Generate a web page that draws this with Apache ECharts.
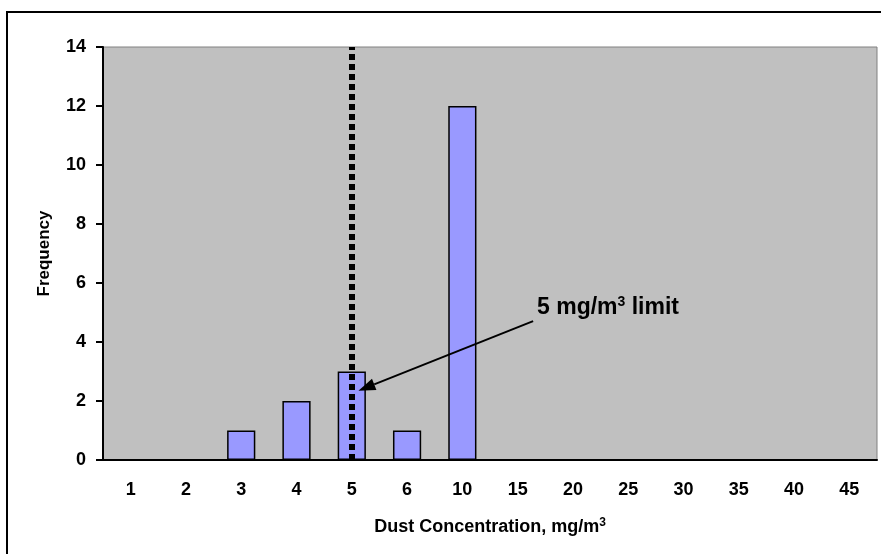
<!DOCTYPE html>
<html>
<head>
<meta charset="utf-8">
<script src="https://cdn.jsdelivr.net/npm/echarts@6/dist/echarts.min.js"></script>
<style>
  html, body { margin: 0; padding: 0; background: #fff; }
  #chart { width: 881px; height: 554px; }
</style>
</head>
<body>
<div id="chart"></div>
<script>
const categories = ['1', '2', '3', '4', '5', '6', '10', '15', '20', '25', '30', '35', '40', '45'];
const frequency = [0, 0, 1, 2, 3, 1, 12, 0, 0, 0, 0, 0, 0, 0];
const yTicks = [0, 2, 4, 6, 8, 10, 12, 14];
const LIMIT = '5';
const FONT = 'Liberation Sans, Arial, sans-serif';

const limitIndex = categories.indexOf(LIMIT);
const chart = echarts.init(document.getElementById('chart'));

chart.setOption({
  animation: false,
  grid: {
    left: 103, right: 4, top: 47, bottom: 94,
    show: true,
    backgroundColor: '#c0c0c0',
    borderColor: '#808080',
    borderWidth: 1
  },
  xAxis: {
    type: 'category',
    data: categories,
    name: '{a|Dust Concentration, mg/m}{s|3}',
    nameLocation: 'middle',
    nameGap: 57,
    nameTextStyle: {
      rich: {
        a: { fontFamily: FONT, fontWeight: 'bold', fontSize: 18, color: '#000' },
        s: { fontFamily: FONT, fontWeight: 'bold', fontSize: 12, color: '#000', verticalAlign: 'top', padding: [0, 0, 8, 0] }
      }
    },
    axisLine: { lineStyle: { color: '#000', width: 2 } },
    axisTick: { length: 6, lineStyle: { color: '#000', width: 2 } },
    axisLabel: { color: '#000', fontFamily: FONT, fontWeight: 'bold', fontSize: 18, margin: 21 },
    splitLine: { show: false }
  },
  yAxis: {
    type: 'value',
    min: yTicks[0],
    max: yTicks[yTicks.length - 1],
    interval: yTicks[1] - yTicks[0],
    name: 'Frequency',
    nameLocation: 'middle',
    nameRotate: 90,
    nameGap: 50,
    nameTextStyle: { color: '#000', fontFamily: FONT, fontWeight: 'bold', fontSize: 17 },
    axisLine: { show: true, lineStyle: { color: '#000', width: 2 } },
    axisTick: { show: true, length: 7, lineStyle: { color: '#000', width: 2 } },
    axisLabel: { color: '#000', fontFamily: FONT, fontWeight: 'bold', fontSize: 18, margin: 17 },
    splitLine: { show: false }
  },
  series: [{
    type: 'bar',
    data: frequency,
    barWidth: '51%',
    itemStyle: { color: '#9999ff', borderColor: '#000', borderWidth: 1.5 },
    markLine: {
      silent: true,
      symbol: ['none', 'none'],
      label: { show: false },
      lineStyle: { color: '#000', width: 6, type: [6, 4] },
      data: [{ xAxis: limitIndex }]
    }
  }]
});

// annotation: arrow from label to the limit line
const p0 = chart.convertToPixel({ seriesIndex: 0 }, [limitIndex, 0]);
const p1 = chart.convertToPixel({ seriesIndex: 0 }, [limitIndex + 1, 1]);
const band = p1[0] - p0[0];
const unit = p0[1] - p1[1];
const tip = [p0[0] + 0.12 * band, p0[1] - 2.35 * unit];
const tail = [p0[0] + 3.28 * band, p0[1] - 4.71 * unit];
const dx = tip[0] - tail[0], dy = tip[1] - tail[1];
const len = Math.sqrt(dx * dx + dy * dy);
const ux = dx / len, uy = dy / len;
const headLen = 17, headHalf = 6;
const base = [tip[0] - ux * headLen, tip[1] - uy * headLen];
const head = [
  tip,
  [base[0] - uy * headHalf, base[1] + ux * headHalf],
  [base[0] + uy * headHalf, base[1] - ux * headHalf]
];

chart.setOption({
  graphic: [
    {
      type: 'rect',
      shape: { x: 7, y: 12, width: 900, height: 600 },
      style: { fill: null, stroke: '#000', lineWidth: 2 },
      silent: true
    },
    {
      type: 'line',
      shape: { x1: tail[0], y1: tail[1], x2: base[0], y2: base[1] },
      style: { stroke: '#000', lineWidth: 2 },
      z: 100
    },
    {
      type: 'polygon',
      shape: { points: head },
      style: { fill: '#000' },
      z: 100
    },
    {
      type: 'text',
      x: p0[0] + 3.35 * band,
      y: p0[1] - 5.15 * unit,
      z: 100,
      style: {
        text: '{a|5 mg/m}{s|3}{a| limit}',
        verticalAlign: 'middle',
        rich: {
          a: { fontFamily: FONT, fontWeight: 'bold', fontSize: 23, fill: '#000' },
          s: { fontFamily: FONT, fontWeight: 'bold', fontSize: 14, fill: '#000', verticalAlign: 'top', padding: [0, 0, 11, 0] }
        }
      }
    }
  ]
});
</script>
</body>
</html>
